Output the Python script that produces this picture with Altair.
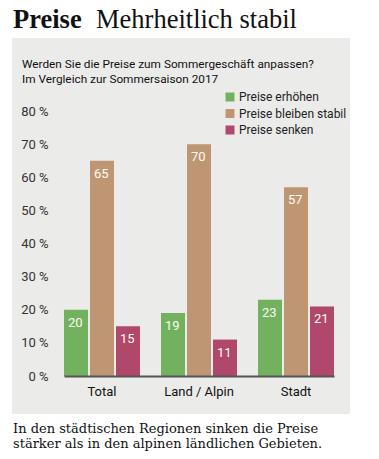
import altair as alt
import pandas as pd

categories = ["Total", "Land / Alpin", "Stadt"]
series = ["Preise erhöhen", "Preise bleiben stabil", "Preise senken"]
values_up = [20, 19, 23]
values_stable = [65, 70, 57]
values_down = [15, 11, 21]
y_ticks = [0, 10, 20, 30, 40, 50, 60, 70, 80]
colors = ["#72b25e", "#bf9674", "#b0486b"]

headline_bold = "Preise"
headline_rest = "Mehrheitlich stabil"
question = "Werden Sie die Preise zum Sommergeschäft anpassen?"
subq = "Im Vergleich zur Sommersaison 2017"
caption1 = "In den städtischen Regionen sinken die Preise"
caption2 = "stärker als in den alpinen ländlichen Gebieten."

rows = []
for i, c in enumerate(categories):
    for s, vals in zip(series, [values_up, values_stable, values_down]):
        rows.append({"cat": c, "series": s, "value": vals[i]})
df = pd.DataFrame(rows)

SANS = "Roboto, DejaVu Sans Condensed, sans-serif"
SERIF = "Liberation Serif, DejaVu Serif, serif"
SERIF2 = "DejaVu Serif, Liberation Serif, serif"
BG = "#ebebea"

one = pd.DataFrame({"k": [0]})

def txt(s, x, y, size, font, weight="normal", color="#111"):
    return alt.Chart(pd.DataFrame({"t": [s]})).mark_text(
        align="left", baseline="alphabetic", fontSize=size, font=font,
        fontWeight=weight, color=color, clip=False
    ).encode(text="t:N", x=alt.value(x), y=alt.value(y))

bgbox = alt.Chart(one).mark_rect(color=BG, clip=False).encode(
    x=alt.value(-52), x2=alt.value(286), y=alt.value(-73), y2=alt.value(303)
)

xaxis = alt.Axis(title=None, labelAngle=0, ticks=False, labelPadding=9,
                 domainColor="#555", domainWidth=2, zindex=1,
                 labelFont=SANS, labelFontSize=13, labelColor="#111",
                 labelFontWeight="normal")
yaxis = alt.Axis(title=None, values=y_ticks, tickCount=len(y_ticks),
                 labelExpr="datum.value + ' %'", grid=False, domain=False,
                 ticks=False, labelPadding=16, labelFont=SANS, zindex=1,
                 labelOverlap=False, labelFontSize=13, labelColor="#333")
xscale = alt.Scale(paddingInner=0.2165, paddingOuter=0)
yscale = alt.Scale(domain=[0, 80], nice=False)

xenc = alt.X("cat:N", sort=categories, scale=xscale, axis=xaxis)
yenc = alt.Y("value:Q", scale=yscale, axis=yaxis)
xoff = alt.XOffset("series:N", sort=series,
                   scale=alt.Scale(paddingInner=0.077, paddingOuter=0))

bars = alt.Chart(df).mark_bar().encode(
    x=xenc, y=yenc, xOffset=xoff,
    color=alt.Color("series:N", sort=series,
                    scale=alt.Scale(domain=series, range=colors),
                    legend=alt.Legend(title=None, orient="none", legendX=160,
                                      legendY=-20, symbolType="square",
                                      symbolSize=81, symbolStrokeWidth=0,
                                      labelFont=SANS, labelFontSize=12,
                                      labelColor="#222", labelOffset=3,
                                      rowPadding=4.5, padding=0, labelLimit=300)),
)

labels = alt.Chart(df).mark_text(
    align="left", baseline="alphabetic", dx=-8, dy=17, color="#fdfaf2",
    font=SANS, fontSize=13
).encode(x=xenc, y=yenc, xOffset=xoff, text="value:Q")

chart = alt.layer(
    bgbox,
    txt(headline_bold, -51, -83, 26.5, SERIF, "bold", "#111"),
    txt(headline_rest, 32, -83, 26.5, SERIF, "normal", "#111"),
    txt(question, -42, -43, 11.8, SANS, "normal", "#111"),
    txt(subq, -42, -28, 11.8, SANS, "normal", "#111"),
    bars,
    labels,
    txt(caption1, -51, 322, 13, SERIF2, "normal", "#111"),
    txt(caption2, -51, 337, 13, SERIF2, "normal", "#111"),
).properties(
    width=270, height=265,
    autosize=alt.AutoSizeParams(type="none"),
    padding={"left": 56, "top": 103, "right": 37, "bottom": 75},
    background="white",
).configure_view(stroke=None).configure_axis(labelOverlap=False)

chart.save("out.html", embed_options={"renderer": "svg", "actions": False})
